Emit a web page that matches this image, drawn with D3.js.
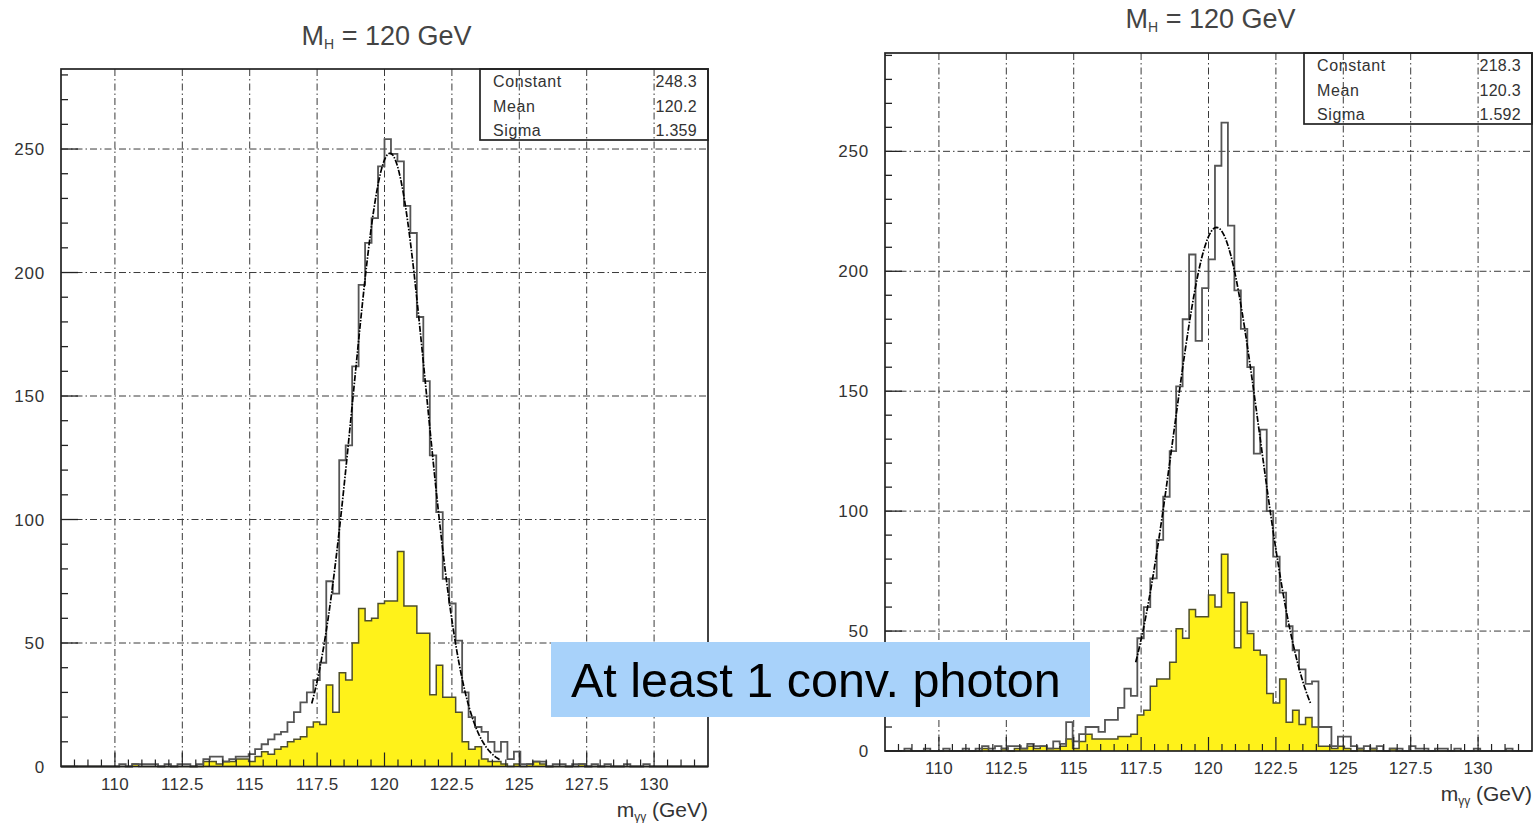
<!DOCTYPE html>
<html><head><meta charset="utf-8">
<script src="https://cdn.jsdelivr.net/npm/d3@7"></script>
<style>body{margin:0;background:#fff}svg{display:block}text{font-family:"Liberation Sans",Arial,sans-serif}</style>
</head><body><svg id="c" width="1535" height="823"></svg>
<script>
// ---------- data ----------
const binRange = [108, 132];
const nBins = 100;
const xTicks = [110, 112.5, 115, 117.5, 120, 122.5, 125, 127.5, 130];
const xTickLabels = ["110", "112.5", "115", "117.5", "120", "122.5", "125", "127.5", "130"];
const yTicks = [0, 50, 100, 150, 200, 250];
const yTickLabels = ["0", "50", "100", "150", "200", "250"];
const statNames = ["Constant", "Mean", "Sigma"];

const leftTotal = [
  0,0,0,0,0,0,0,0,0,1,
  0,1,1,1,1,0,1,0,1,1,
  0,1,3,4,4,2,3,4,4,5,
  7,9,11,13,14,18,22,26,30,35,
  42,75,70,124,130,162,195,212,222,243,
  254,248,245,227,216,182,156,126,103,76,
  66,51,30,20,16,14,10,6,10,3,
  6,1,1,2,2,0,1,1,0,1,
  1,0,1,0,1,0,0,1,0,0,
  1,0,0,0,0,0,0,0,0,0];
const leftConv = [
  0,0,0,0,0,0,0,0,0,0,
  0,1,0,0,0,0,0,0,0,0,
  0,0,2,2,1,2,2,3,3,2,
  4,6,5,7,8,10,11,12,16,18,
  17,33,22,38,35,50,64,59,60,66,
  67,67,87,65,65,54,54,29,41,28,
  28,22,10,7,8,3,2,2,1,0,
  1,0,1,2,1,0,0,0,0,0,
  1,0,0,0,0,0,0,0,0,0,
  0,0,0,0,0,0,0,0,0,0];
const rightTotal = [
  0,0,0,1,0,0,1,0,0,1,
  0,0,1,0,1,2,1,2,1,2,
  2,1,3,2,2,1,4,3,12,4,
  7,10,10,8,13,13,18,26,23,47,
  60,72,88,106,125,152,180,207,171,193,
  205,244,262,219,192,176,160,124,134,100,
  81,66,52,42,34,28,29,10,10,2,
  6,6,2,1,2,1,2,0,1,1,
  0,2,1,1,0,1,1,0,1,0,
  0,1,0,0,0,0,1,0,0,0];
const rightConv = [
  0,0,0,0,0,0,0,0,0,0,
  0,0,0,0,0,1,0,0,1,0,
  1,1,2,1,2,1,1,2,5,1,
  4,7,5,5,5,5,6,6,7,15,
  17,27,30,30,37,51,47,59,56,56,
  65,60,82,66,43,62,49,42,40,24,
  20,30,12,17,11,14,10,2,2,1,
  2,1,0,1,0,1,0,0,1,0,
  0,0,0,0,0,0,0,0,0,0,
  0,0,0,0,0,0,0,0,0,0];

const leftFit = [248.3, 120.2, 1.359];      // constant, mean, sigma
const leftFitRange = [117.3, 124.3];
const rightFit = [218.3, 120.3, 1.592];
const rightFitRange = [117.3, 123.8];
const leftStats = ["248.3", "120.2", "1.359"];
const rightStats = ["218.3", "120.3", "1.592"];
const leftYMax = 282.4;
const rightYMax = 291;

// ---------- drawing ----------
const svg = d3.select("#c");
const binW = (binRange[1] - binRange[0]) / nBins;

function stepPath(x, y, vals) {
  const p = d3.path();
  p.moveTo(x(binRange[0]), y(0));
  vals.forEach((v, i) => {
    const lo = binRange[0] + i * binW, hi = lo + binW;
    p.lineTo(x(lo), y(v));
    p.lineTo(x(hi), y(v));
  });
  p.lineTo(x(binRange[1]), y(0));
  return p.toString();
}

function panel(o) {
  const x = d3.scaleLinear().domain(binRange).range([o.x0, o.x1]);
  const y = d3.scaleLinear().domain([0, o.yMax]).range([o.y0, o.y1]);
  const g = svg.append("g");

  // grid
  const gridStyle = s => s.attr("stroke", "#3a3a3a").attr("stroke-width", 1).attr("stroke-dasharray", "7,3,1.5,3").attr("fill", "none");
  g.selectAll(".gv").data(xTicks).join("line")
    .attr("x1", d => x(d)).attr("x2", d => x(d)).attr("y1", o.y1).attr("y2", o.y0).call(gridStyle);
  g.selectAll(".gh").data(yTicks.filter(d => d > 0)).join("line")
    .attr("x1", o.x0).attr("x2", o.x1).attr("y1", d => y(d)).attr("y2", d => y(d)).call(gridStyle);

  // conv histogram (filled)
  g.append("path").attr("d", stepPath(x, y, o.conv))
    .attr("fill", "#fff21a").attr("stroke", "#4f4f2a").attr("stroke-width", 1.5);
  // total histogram (open)
  g.append("path").attr("d", stepPath(x, y, o.total))
    .attr("fill", "none").attr("stroke", "#555").attr("stroke-width", 1.8);

  // gaussian fit
  const [C, mu, sg] = o.fit;
  const pts = d3.range(o.fitRange[0], o.fitRange[1] + 1e-9, 0.04);
  g.append("path").datum(pts)
    .attr("d", d3.line().x(d => x(d)).y(d => y(C * Math.exp(-0.5 * ((d - mu) / sg) ** 2))))
    .attr("fill", "none").attr("stroke", "#000").attr("stroke-width", 1.7).attr("stroke-dasharray", "6,1.5,1.5,1.5");

  // frame
  g.append("rect").attr("x", o.x0).attr("y", o.y1).attr("width", o.x1 - o.x0).attr("height", o.y0 - o.y1)
    .attr("fill", "none").attr("stroke", "#222").attr("stroke-width", 1.7);

  // y ticks (inside)
  const yMinor = d3.range(0, o.yMax, 10);
  g.selectAll(".ytm").data(yMinor).join("line")
    .attr("x1", o.x0).attr("x2", d => o.x0 + (d % 50 === 0 ? 17 : 7))
    .attr("y1", d => y(d)).attr("y2", d => y(d)).attr("stroke", "#222").attr("stroke-width", 1.3);
  // x ticks (inside)
  const xMinor = d3.range(108.5, 132, 0.5);
  g.selectAll(".xtm").data(xMinor).join("line")
    .attr("x1", d => x(d)).attr("x2", d => x(d))
    .attr("y1", o.y0).attr("y2", d => o.y0 - (xTicks.includes(d) ? 14 : 7))
    .attr("stroke", "#222").attr("stroke-width", 1.2);

  // tick labels
  g.selectAll(".yl").data(yTicks).join("text")
    .attr("x", o.x0 - 16).attr("y", d => y(d) + 6).attr("text-anchor", "end")
    .attr("font-size", 17).attr("letter-spacing", 0.8).attr("fill", "#333").text((d, i) => yTickLabels[i]);
  g.selectAll(".xl").data(xTicks).join("text")
    .attr("x", d => x(d)).attr("y", o.y0 + 23).attr("text-anchor", "middle")
    .attr("font-size", 17).attr("letter-spacing", 0.3).attr("fill", "#333").text((d, i) => xTickLabels[i]);

  // title
  const t = g.append("text").attr("x", (o.x0 + o.x1) / 2 + 2).attr("y", o.titleY)
    .attr("text-anchor", "middle").attr("font-size", 27).attr("fill", "#444");
  t.append("tspan").text("M");
  t.append("tspan").attr("font-size", 14).attr("dy", 4).text("H");
  t.append("tspan").attr("dy", -4).text(" = 120 GeV");

  // x axis title
  const xl = g.append("text").attr("x", o.x1).attr("y", o.y0 + 50)
    .attr("text-anchor", "end").attr("font-size", 21).attr("fill", "#333");
  xl.append("tspan").text("m");
  xl.append("tspan").attr("font-size", 12).attr("dy", 4).text("γγ");
  xl.append("tspan").attr("dy", -4).text(" (GeV)");

  // stats box
  const bx = o.x1 - 228, bh = 71;
  g.append("rect").attr("x", bx).attr("y", o.y1).attr("width", 228).attr("height", bh)
    .attr("fill", "none").attr("stroke", "#222").attr("stroke-width", 1.7);
  statNames.forEach((n, i) => {
    g.append("text").attr("x", bx + 13).attr("y", o.y1 + 18 + i * 24.5).attr("font-size", 16).attr("letter-spacing", 0.6).attr("fill", "#333").text(n);
    g.append("text").attr("x", o.x1 - 11).attr("y", o.y1 + 18 + i * 24.5).attr("text-anchor", "end")
      .attr("font-size", 16).attr("letter-spacing", 0.3).attr("fill", "#333").text(o.stats[i]);
  });
}

panel({x0: 61, x1: 708, y0: 766.5, y1: 69, yMax: leftYMax, total: leftTotal, conv: leftConv,
  fit: leftFit, fitRange: leftFitRange, stats: leftStats, titleY: 45});
panel({x0: 885, x1: 1532, y0: 751, y1: 53, yMax: rightYMax, total: rightTotal, conv: rightConv,
  fit: rightFit, fitRange: rightFitRange, stats: rightStats, titleY: 28});

// annotation box
svg.append("rect").attr("x", 551).attr("y", 642).attr("width", 539).attr("height", 75).attr("fill", "#a8d2fa");
svg.append("text").attr("x", 571).attr("y", 697).attr("font-size", 48.5).attr("fill", "#000").text("At least 1 conv. photon");
</script></body></html>
